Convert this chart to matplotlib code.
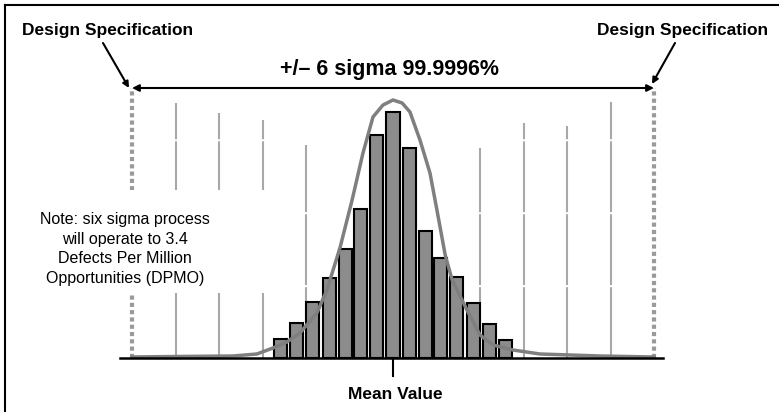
import matplotlib

matplotlib.use("Agg")

import matplotlib.pyplot as plt
from matplotlib.patches import Rectangle

plt.rcParams["font.family"] = ["Liberation Sans", "DejaVu Sans"]

W, H = 779, 413

# histogram: bar offsets (in sigma) and heights (counts)
bar_pos = [-2.58, -2.21, -1.84, -1.47, -1.10, -0.74, -0.37, 0.0,
           0.37, 0.74, 1.10, 1.47, 1.84, 2.21, 2.58]
bar_height = [19, 35, 56, 80, 109, 149, 223, 246, 210, 127, 100, 81, 55, 34, 18]

# fitted curve
curve_x = [-6.0, -5.0, -3.68, -3.13, -2.76, -2.44, -2.14, -1.75, -1.52, -1.22,
           -0.94, -0.69, -0.46, -0.23, 0.0, 0.21, 0.39, 0.62, 0.85, 1.01,
           1.20, 1.36, 1.70, 2.00, 2.30, 2.76, 3.38, 4.76, 6.0]
curve_y = [1, 1.5, 2, 4, 10, 16, 25, 45, 68, 110,
           158, 205, 241, 253, 258, 255, 246, 218, 185, 148,
           103, 78, 48, 23, 13, 8, 4, 2, 1]

# sigma grid lines and how tall they are drawn
grid_x = [-5, -4, -3, -2, 2, 3, 4, 5]
grid_top = [255, 245, 238, 213, 210, 235, 232, 256]

spec_limits = [-6, 6]
spec_top = 270

title = "+/\u2013 6 sigma 99.9996%"
spec_label = "Design Specification"
note = "Note: six sigma process\nwill operate to 3.4\nDefects Per Million\nOpportunities (DPMO)"
mean_label = "Mean Value"

# pixel mapping: x_px = 393 + 43.5 * sigma, y_px = 358 - count
x0, sx = 393, 43.5
y0 = 358


def fx(px):
    return px / W


def fy(py):
    return 1 - py / H


fig = plt.figure(figsize=(W / 100, H / 100), dpi=100)
ax = fig.add_axes([0, 0, 1, 1])
ax.set_xlim(-x0 / sx, (W - x0) / sx)
ax.set_ylim(-(H - y0), y0)
ax.axis("off")

grey_line = "#a8a8a8"

# sigma grid lines
for gx, gt in zip(grid_x, grid_top):
    ax.plot([gx, gx], [0, gt], color=grey_line, lw=1.5, dashes=(34, 1.0), zorder=1)

# spec limits (dotted)
for sx_ in spec_limits:
    ax.plot([sx_, sx_], [0, spec_top], color="#9a9a9a", lw=3.0,
            linestyle=(0, (1.0, 0.75)), zorder=1)

# white box behind note text that cuts the lines
ax.add_patch(Rectangle((fx(30), fy(293)), fx(285) - fx(30), fy(190) - fy(293),
                       transform=fig.transFigure, facecolor="white",
                       edgecolor="none", zorder=2))

ax.bar(bar_pos, bar_height, width=0.3, color="#8c8c8c", edgecolor="black",
       linewidth=1.5, zorder=3)
ax.plot(curve_x, curve_y, color="#7f7f7f", lw=2.5, zorder=4)

# baseline and mean tick
ax.plot([-6.28, 6.21], [0, 0], color="black", lw=1.8, zorder=5)
ax.plot([0, 0], [0, -18], color="black", lw=1.5, zorder=5)

# +/- 6 sigma arrow
ax.annotate("", xy=(spec_limits[0], spec_top), xytext=(spec_limits[1], spec_top),
            arrowprops=dict(arrowstyle="<|-|>", color="black", lw=1.5,
                            mutation_scale=10, shrinkA=0, shrinkB=0))

fig.text(fx(389), fy(75), title, ha="center", va="baseline",
         fontsize=15.5, fontweight="bold")
fig.text(fx(22), fy(35), spec_label, ha="left", va="baseline",
         fontsize=12.5, fontweight="bold")
fig.text(fx(768), fy(35), spec_label, ha="right", va="baseline",
         fontsize=12.5, fontweight="bold")

# arrows from labels to the dotted spec lines
ax.annotate("", xy=(fx(129), fy(88)), xycoords="figure fraction",
            xytext=(fx(103), fy(43)), textcoords="figure fraction",
            arrowprops=dict(arrowstyle="-|>", color="black", lw=1.5,
                            mutation_scale=9, shrinkA=0, shrinkB=0))
ax.annotate("", xy=(fx(652), fy(84)), xycoords="figure fraction",
            xytext=(fx(675), fy(43)), textcoords="figure fraction",
            arrowprops=dict(arrowstyle="-|>", color="black", lw=1.5,
                            mutation_scale=9, shrinkA=0, shrinkB=0))

fig.text(fx(125), fy(249), note, ha="center", va="center", fontsize=11.5,
         linespacing=1.4, zorder=6)
fig.text(fx(395), fy(399), mean_label, ha="center", va="baseline",
         fontsize=12.5, fontweight="bold")

# partial frame: left and top edges only
fig.add_artist(plt.Line2D([fx(5), fx(5)], [fy(5), fy(411)], color="black", lw=1.5))
fig.add_artist(plt.Line2D([fx(5), 1], [fy(5), fy(5)], color="black", lw=1.5))

fig.savefig("out.png", dpi=100)
